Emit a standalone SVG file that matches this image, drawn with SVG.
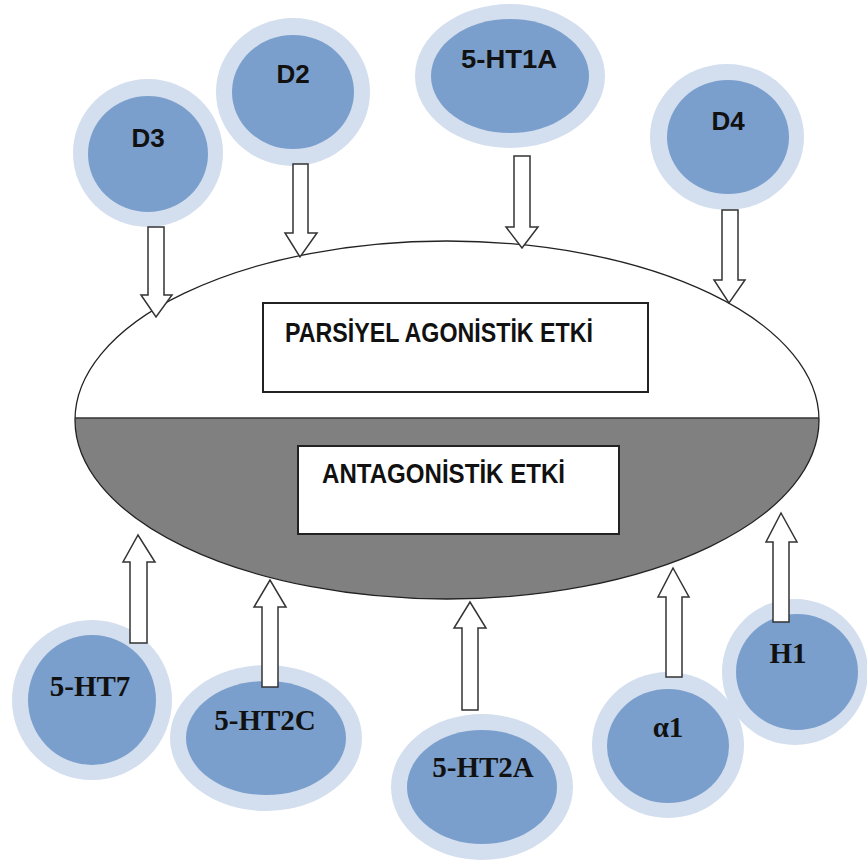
<svg xmlns="http://www.w3.org/2000/svg" width="867" height="861" viewBox="0 0 867 861">
<defs>
<style>
.halo{fill:#d3deee}
.core{fill:#7b9fcc}
.lt{font-family:"Liberation Sans",Arial,sans-serif;font-weight:bold;font-size:26px;fill:#111;text-anchor:middle}
.lb{font-family:"Liberation Serif","Times New Roman",serif;font-weight:bold;font-size:29px;fill:#111;text-anchor:middle}
.box{fill:#fff;stroke:#222;stroke-width:2}
.bt{font-family:"Liberation Sans",Arial,sans-serif;font-weight:bold;font-size:27px;fill:#111}
.arr{fill:#fff;stroke:#333;stroke-width:1.5;stroke-linejoin:miter}
</style>
<clipPath id="ec"><ellipse cx="447" cy="420" rx="372" ry="179"/></clipPath>
</defs>
<rect width="867" height="861" fill="#fff"/>
<g id="center">
<ellipse cx="447" cy="420" rx="372" ry="179" fill="#fff"/>
<rect x="70" y="418" width="760" height="190" fill="#808080" clip-path="url(#ec)"/>
<line x1="75" y1="418" x2="819" y2="418" stroke="#333" stroke-width="1.5"/>
<ellipse cx="447" cy="420" rx="372" ry="179" fill="none" stroke="#222" stroke-width="1.3"/>
</g>
<g id="box-agonist">
<rect class="box" x="263" y="303" width="385" height="89"/>
<text class="bt" x="285" y="342" textLength="308" lengthAdjust="spacingAndGlyphs">PARSİYEL AGONİSTİK ETKİ</text>
</g>
<g id="box-antagonist">
<rect class="box" x="298" y="446" width="321" height="88"/>
<text class="bt" x="322" y="483" textLength="243" lengthAdjust="spacingAndGlyphs">ANTAGONİSTİK ETKİ</text>
</g>
<g id="D3"><ellipse class="halo" cx="148" cy="153" rx="75" ry="74"/><ellipse class="core" cx="148" cy="154" rx="60" ry="58"/><text class="lt" x="148" y="147">D3</text></g>
<g id="D2"><ellipse class="halo" cx="293" cy="92" rx="77" ry="74"/><ellipse class="core" cx="293" cy="92" rx="61" ry="57"/><text class="lt" x="293" y="83">D2</text></g>
<g id="5-HT1A"><ellipse class="halo" cx="510" cy="76" rx="95" ry="72"/><ellipse class="core" cx="510" cy="76" rx="79" ry="57"/><text class="lt" x="509" y="68" textLength="96" lengthAdjust="spacingAndGlyphs">5-HT1A</text></g>
<g id="D4"><ellipse class="halo" cx="727" cy="137" rx="77" ry="73"/><ellipse class="core" cx="728" cy="137" rx="61" ry="57"/><text class="lt" x="728" y="130">D4</text></g>
<g id="5-HT7"><ellipse class="halo" cx="92" cy="700" rx="80" ry="80"/><ellipse class="core" cx="92" cy="700" rx="64" ry="65"/><text class="lb" x="90" y="696">5-HT7</text></g>
<g id="5-HT2C"><ellipse class="halo" cx="266" cy="738" rx="96" ry="73"/><ellipse class="core" cx="266" cy="738" rx="80" ry="57"/><text class="lb" x="265" y="730">5-HT2C</text></g>
<g id="5-HT2A"><ellipse class="halo" cx="482" cy="787" rx="91" ry="73"/><ellipse class="core" cx="482" cy="787" rx="75" ry="57"/><text class="lb" x="483" y="777">5-HT2A</text></g>
<g id="alpha1"><ellipse class="halo" cx="668" cy="745" rx="76" ry="73"/><ellipse class="core" cx="668" cy="746" rx="61" ry="57"/><text class="lb" x="668" y="737">α1</text></g>
<g id="H1"><ellipse class="halo" cx="795" cy="672" rx="73" ry="73"/><ellipse class="core" cx="797" cy="672" rx="61" ry="58"/><text class="lb" x="788" y="663">H1</text></g>
<g id="connectors">
<polygon class="arr" points="148,227 164,227 164,295 172,295 156,317 141,295 148,295"/>
<polygon class="arr" points="293,164 308,164 308,233 317,233 300,257 285,233 293,233"/>
<polygon class="arr" points="514,156 530,156 530,227 538,227 522,248 506,227 514,227"/>
<polygon class="arr" points="722,210 738,210 738,280 745,280 729,303 714,280 722,280"/>
<polygon class="arr" points="130,643 147,643 147,562 155,562 138,535 123,562 130,562"/>
<polygon class="arr" points="262,687 278,687 278,607 286,607 270,580 254,607 262,607"/>
<polygon class="arr" points="462,710 478,710 478,628 486,628 470,602 454,628 462,628"/>
<polygon class="arr" points="666,677 682,677 682,597 689,597 673,568 658,597 666,597"/>
<polygon class="arr" points="773,622 789,622 789,542 797,542 781,513 766,542 773,542"/>
</g>
</svg>
